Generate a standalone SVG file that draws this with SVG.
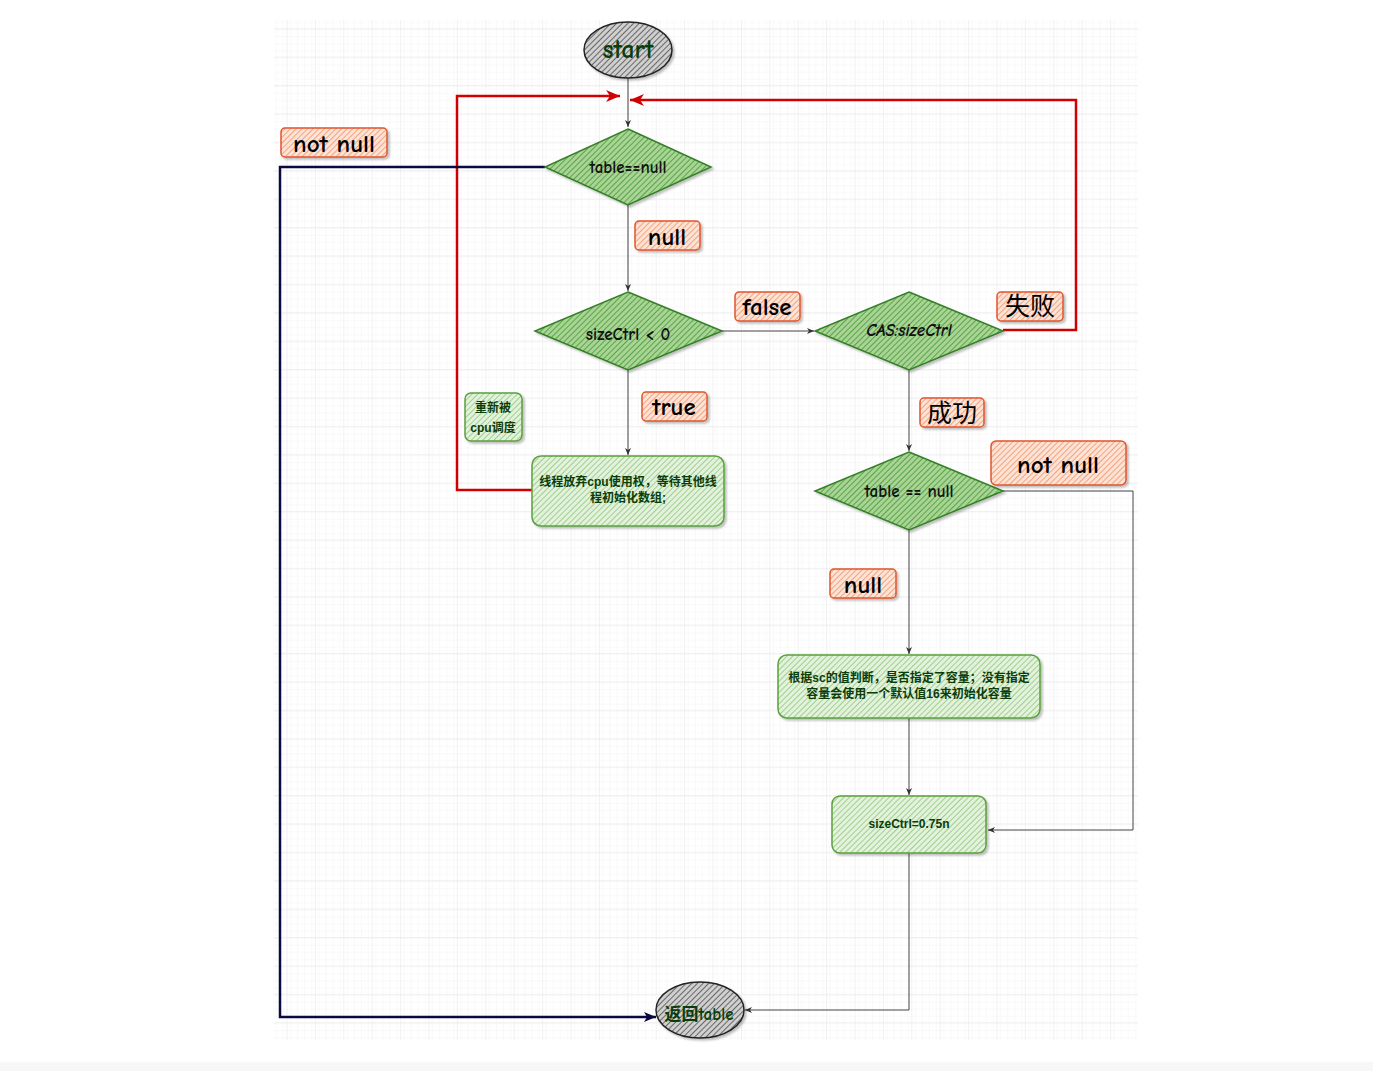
<svg xmlns="http://www.w3.org/2000/svg" width="1373" height="1071" viewBox="0 0 1373 1071">
<defs>
<pattern id="gridMinor" x="3.5" y="0.8" width="7.1" height="7.1" patternUnits="userSpaceOnUse">
<path d="M7.1 0V7.1M0 7.1H7.1" fill="none" stroke="#f2f2f2" stroke-width="1"/>
</pattern>
<pattern id="gridMajor" x="3.5" y="0.8" width="28.4" height="28.4" patternUnits="userSpaceOnUse">
<rect width="28.4" height="28.4" fill="url(#gridMinor)"/>
<path d="M28.4 0V28.4M0 28.4H28.4" fill="none" stroke="#e4e4e4" stroke-width="1"/>
</pattern>
<pattern id="hDia" width="4" height="4" patternUnits="userSpaceOnUse" patternTransform="rotate(45)">
<rect width="4" height="4" fill="#a8d496"/>
<line x1="0" y1="0" x2="0" y2="4" stroke="#4f9a3a" stroke-width="1.7"/>
</pattern>
<pattern id="hBox" width="4" height="4" patternUnits="userSpaceOnUse" patternTransform="rotate(45)">
<rect width="4" height="4" fill="#e3f2dc"/>
<line x1="0" y1="0" x2="0" y2="4" stroke="#86c06f" stroke-width="1.4"/>
</pattern>
<pattern id="hOr" width="4" height="4" patternUnits="userSpaceOnUse" patternTransform="rotate(45)">
<rect width="4" height="4" fill="#fde3d6"/>
<line x1="0" y1="0" x2="0" y2="4" stroke="#f08f62" stroke-width="1.5"/>
</pattern>
<pattern id="hGray" width="4" height="4" patternUnits="userSpaceOnUse" patternTransform="rotate(45)">
<rect width="4" height="4" fill="#cfcfcf"/>
<line x1="0" y1="0" x2="0" y2="4" stroke="#3a3a3a" stroke-width="1.4"/>
</pattern>
<filter id="sh" x="-10%" y="-10%" width="130%" height="140%">
<feDropShadow dx="2" dy="2" stdDeviation="1.2" flood-color="#000" flood-opacity="0.25"/>
</filter>
<marker id="ab" markerWidth="8" markerHeight="8" refX="7" refY="4" orient="auto" markerUnits="userSpaceOnUse">
<path d="M0 1L7 4L0 7L2 4Z" fill="#333"/>
</marker>
<marker id="ar" markerWidth="16" markerHeight="14" refX="14" refY="7" orient="auto" markerUnits="userSpaceOnUse">
<path d="M0 1L14 7L0 13L4 7Z" fill="#d00000"/>
</marker>
<marker id="an" markerWidth="14" markerHeight="12" refX="12" refY="6" orient="auto" markerUnits="userSpaceOnUse">
<path d="M0 1L12 6L0 11L3 6Z" fill="#0a0a40"/>
</marker>
</defs>
<style>
.dia{fill:url(#hDia);stroke:#347f27;stroke-width:1.5;filter:url(#sh)}
.box{fill:url(#hBox);stroke:#5aa03c;stroke-width:1.5;filter:url(#sh)}
.lab{fill:url(#hOr);stroke:#e0552e;stroke-width:1.5;filter:url(#sh)}
.ell{fill:url(#hGray);stroke:#222;stroke-width:1.5;filter:url(#sh)}
.t{font-family:"Comic Neue","DejaVu Sans","Noto Sans CJK SC",sans-serif;text-anchor:middle;dominant-baseline:central}
.dt{font-size:17px;fill:#111;font-weight:bold}
.lt{font-size:25px;fill:#000;font-weight:bold}
.cj{font-weight:normal}
.bt{font-family:"Liberation Sans","Noto Sans CJK SC",sans-serif;font-weight:bold;font-size:12px;fill:#0b3d0b;text-anchor:middle;dominant-baseline:central}
.et{fill:#0b3d0b;font-weight:bold}
.c{fill:none;stroke:#444;stroke-width:1}
.cr{fill:none;stroke:#d00000;stroke-width:2.5}
.cn{fill:none;stroke:#0a0a40;stroke-width:2.5}
</style>
<rect x="0" y="0" width="1373" height="1071" fill="#ffffff"/>
<rect x="274" y="20" width="864" height="1020" fill="url(#gridMajor)"/>
<rect x="0" y="1062" width="1373" height="9" fill="#f7f7f7"/>

<g id="connectors">
<path class="c" d="M628 78V127" marker-end="url(#ab)"/>
<path class="cr" d="M532 490H457V96H620" marker-end="url(#ar)"/>
<path class="cr" d="M1003 330H1076V100H630" marker-end="url(#ar)"/>
<path class="cn" d="M545 167H280V1017H656" marker-end="url(#an)"/>
<path class="c" d="M628 205V291" marker-end="url(#ab)"/>
<path class="c" d="M722 331H814" marker-end="url(#ab)"/>
<path class="c" d="M628 370V455" marker-end="url(#ab)"/>
<path class="c" d="M909 370V451" marker-end="url(#ab)"/>
<path class="c" d="M909 530V654" marker-end="url(#ab)"/>
<path class="c" d="M1003 491H1133V830H988" marker-end="url(#ab)"/>
<path class="c" d="M909 718V795" marker-end="url(#ab)"/>
<path class="c" d="M909 853V1010H745" marker-end="url(#ab)"/>
</g>

<g id="start">
<ellipse class="ell" cx="628" cy="50" rx="44" ry="28"/>
<text class="t et" x="628" y="50" font-size="26">start</text>
</g>
<g id="d_table1">
<path class="dia" d="M628 129L711 167L628 205L545 167Z"/>
<text class="t dt" x="628" y="167">table==null</text>
</g>
<g id="lab_notnull1">
<rect class="lab" x="281" y="128" width="106" height="29" rx="4"/>
<text class="t lt" x="334" y="143">not null</text>
</g>
<g id="lab_null1">
<rect class="lab" x="635" y="221" width="65" height="29" rx="4"/>
<text class="t lt" x="667" y="236">null</text>
</g>
<g id="d_sizectrl">
<path class="dia" d="M628 292L722 331L628 370L535 331Z"/>
<text class="t dt" x="628" y="334">sizeCtrl &lt; 0</text>
</g>
<g id="lab_false">
<rect class="lab" x="735" y="292" width="65" height="29" rx="4"/>
<text class="t lt" x="767" y="306">false</text>
</g>
<g id="d_cas">
<path class="dia" d="M909 292L1003 331L909 370L815 331Z"/>
<text class="t dt" x="909" y="330" font-style="italic">CAS:sizeCtrl</text>
</g>
<g id="lab_fail">
<rect class="lab" x="997" y="292" width="66" height="29" rx="4"/>
<text class="t lt cj" x="1030" y="306">失败</text>
</g>
<g id="lab_true">
<rect class="lab" x="642" y="392" width="65" height="29" rx="4"/>
<text class="t lt" x="674" y="406">true</text>
</g>
<g id="box_yield">
<rect class="box" x="532" y="456" width="192" height="70" rx="9"/>
<text class="bt" x="628" y="482">线程放弃cpu使用权，等待其他线</text>
<text class="bt" x="628" y="498">程初始化数组;</text>
</g>
<g id="box_resched">
<rect class="box" x="465" y="393" width="57" height="48" rx="6"/>
<text class="bt" x="493" y="408">重新被</text>
<text class="bt" x="493" y="428">cpu调度</text>
</g>
<g id="lab_ok">
<rect class="lab" x="920" y="398" width="64" height="29" rx="4"/>
<text class="t lt cj" x="952" y="413">成功</text>
</g>
<g id="d_table2">
<path class="dia" d="M909 452L1003 491L909 530L815 491Z"/>
<text class="t dt" x="909" y="491">table == null</text>
</g>
<g id="lab_notnull2">
<rect class="lab" x="991" y="441" width="135" height="44" rx="5"/>
<text class="t lt" x="1058" y="464">not null</text>
</g>
<g id="lab_null2">
<rect class="lab" x="830" y="569" width="66" height="29" rx="4"/>
<text class="t lt" x="863" y="584">null</text>
</g>
<g id="box_init">
<rect class="box" x="778" y="655" width="262" height="63" rx="9"/>
<text class="bt" x="909" y="678">根据sc的值判断，是否指定了容量；没有指定</text>
<text class="bt" x="909" y="694">容量会使用一个默认值16来初始化容量</text>
</g>
<g id="box_sizectrl">
<rect class="box" x="832" y="796" width="154" height="57" rx="8"/>
<text class="bt" x="909" y="824">sizeCtrl=0.75n</text>
</g>
<g id="end">
<ellipse class="ell" cx="700" cy="1010" rx="44" ry="28"/>
<text class="t et" x="699" y="1014" font-size="17">返回table</text>
</g>
</svg>
